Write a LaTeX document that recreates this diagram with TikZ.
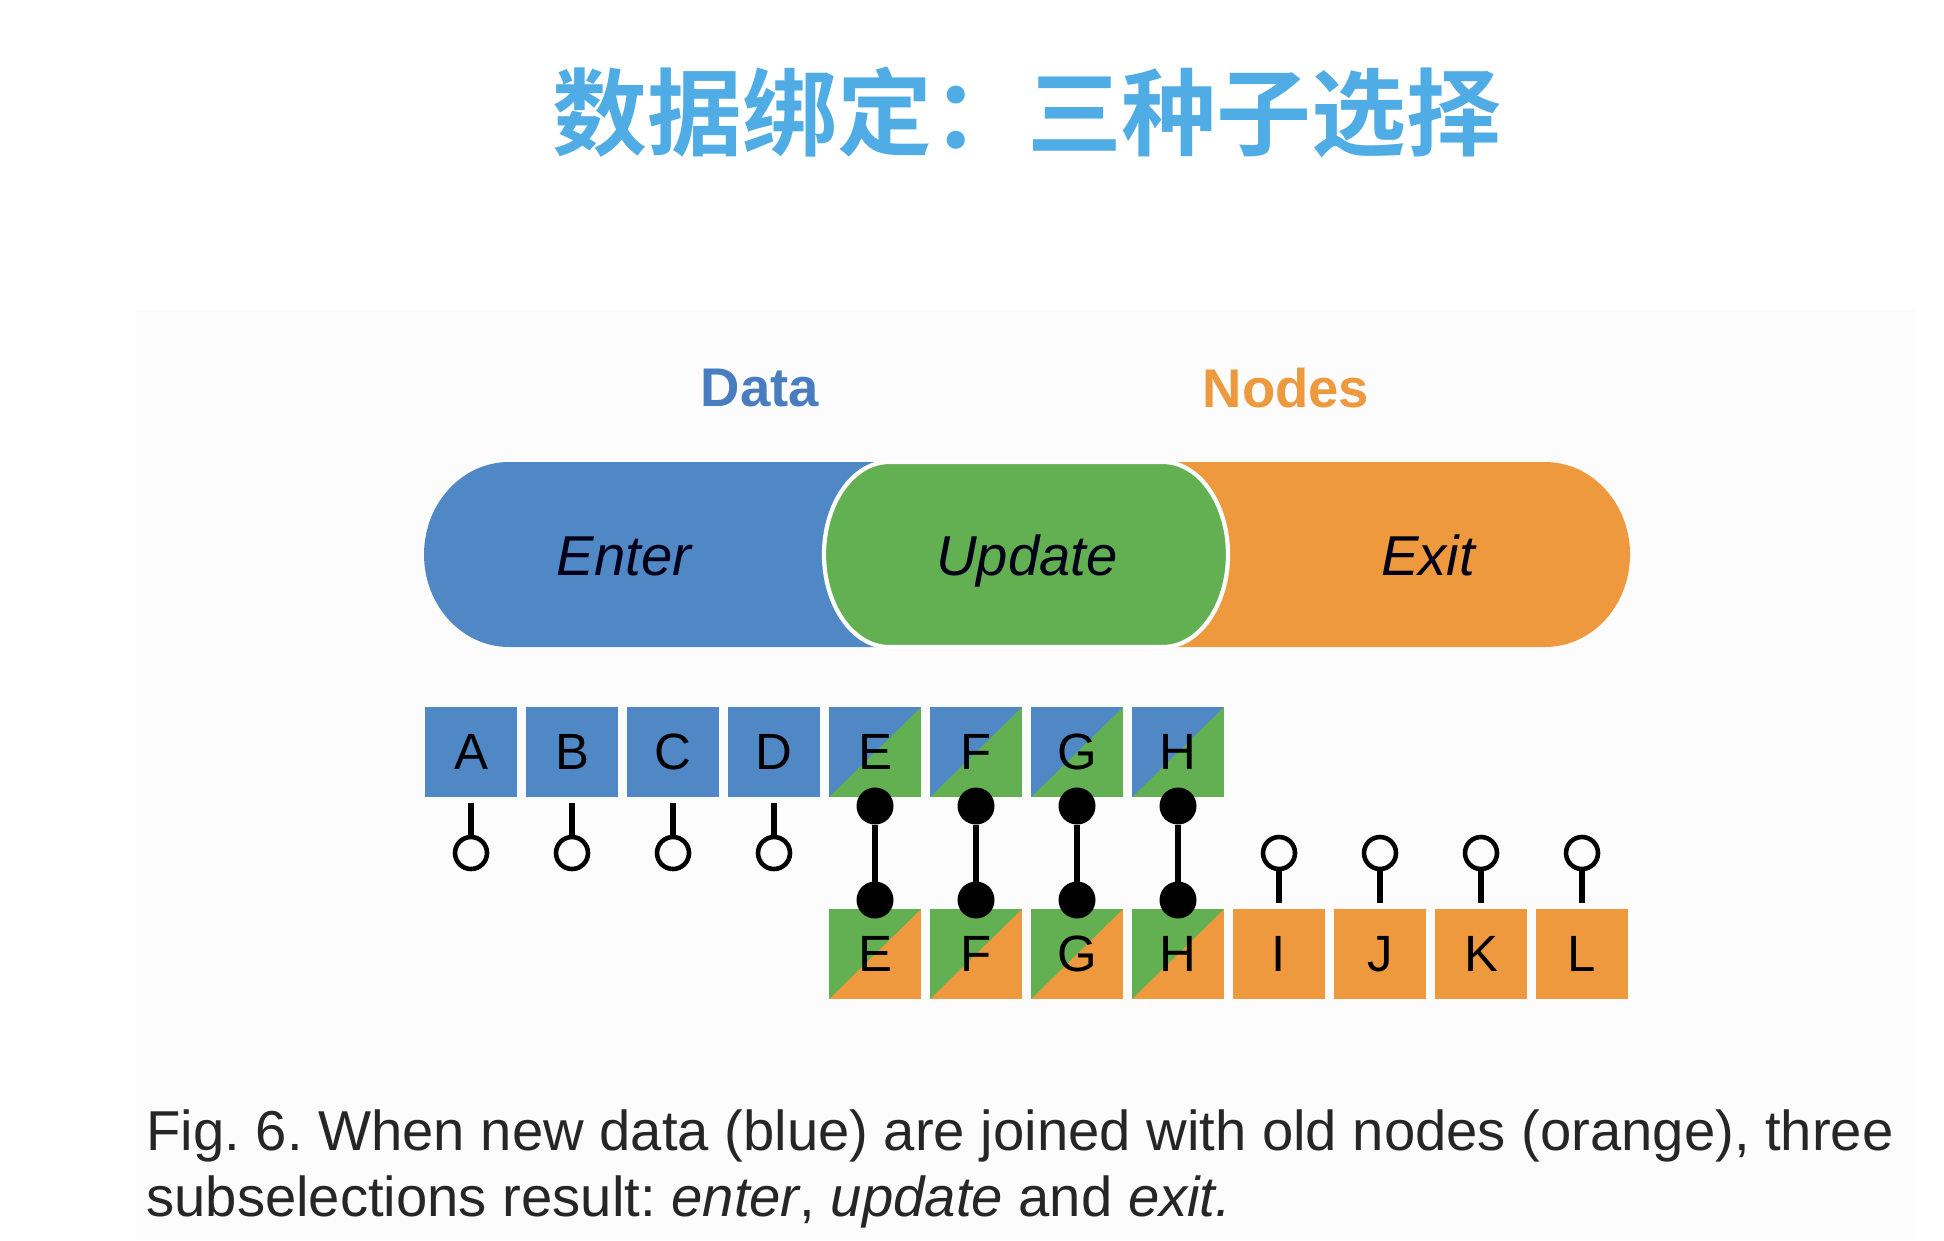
\documentclass[tikz,border=0pt]{standalone}
\usepackage{fontspec}
\setmainfont{Liberation Sans}
\newfontfamily\cjk{Noto Sans CJK SC Bold}
\usepackage{xcolor}
\definecolor{joinblue}{RGB}{80,136,198}
\definecolor{joingreen}{RGB}{98,176,82}
\definecolor{joinorange}{RGB}{238,153,62}
\definecolor{labelblue}{RGB}{72,125,192}
\definecolor{titleblue}{RGB}{80,172,228}
\definecolor{figgray}{RGB}{252,252,252}
\frenchspacing

\tikzset{
  datum/.style={minimum width=0.92cm, minimum height=0.90cm, inner sep=0pt, outer sep=0pt,
    font=\fontsize{14.5}{14.5}\selectfont},
  halfhalf/.style 2 args={fill=#2, path picture={
    \fill[#1] (path picture bounding box.north west) -- (path picture bounding box.north east)
      -- (path picture bounding box.south west) -- cycle;}},
  ring/.style={circle, draw, line width=1.3pt, minimum size=0.32cm, inner sep=0pt, outer sep=0pt},
  blob/.style={circle, fill, minimum size=0.37cm, inner sep=0pt, outer sep=0pt},
  stick/.style={line width=1.6pt},
  bar/.style={line width=1.7pt},
  pilltext/.style={anchor=base, font=\itshape\fontsize{16}{16}\selectfont, text=black!90!blue}
}

\begin{document}
\begin{tikzpicture}
  \useasboundingbox (0,0) rectangle (19.44,12.40);
  \fill[white] (0,0) rectangle (19.44,12.40);
  \fill[figgray] (1.36,0) rectangle (19.16,9.30);

  \node[font=\cjk\fontsize{27}{27}\selectfont, text=titleblue] (title) at (10.27,11.28) {数据绑定：三种子选择};

  % the three subselections
  \fill[joinblue] (5.09,7.78) -- (9.6,7.78) -- (9.6,5.93) -- (5.09,5.93)
    arc[start angle=270, end angle=90, x radius=0.85, y radius=0.925] -- cycle;
  \fill[joinorange] (11.0,7.78) -- (15.45,7.78)
    arc[start angle=90, end angle=-90, x radius=0.85, y radius=0.925] -- (11.0,5.93) -- cycle;
  \filldraw[fill=joingreen, draw=white, line width=1.2pt] (8.89,7.78) -- (11.63,7.78)
    arc[start angle=90, end angle=-90, x radius=0.65, y radius=0.925] -- (8.89,5.93)
    arc[start angle=270, end angle=90, x radius=0.65, y radius=0.925] -- cycle;
  \node[pilltext] (enter) at (6.24,6.65) {Enter};
  \node[pilltext] (update) at (10.27,6.65) {Update};
  \node[pilltext] (exit) at (14.28,6.65) {Exit};

  \node[font=\bfseries\fontsize{15.5}{16}\selectfont, text=labelblue] (data) at (7.60,8.52) {Data};
  \node[font=\bfseries\fontsize{15.5}{16}\selectfont, text=joinorange] (nodes) at (12.86,8.52) {Nodes};

  % data row
  \foreach \l [count=\i from 0] in {A,B,C,D} { \node[datum, fill=joinblue] (d\l) at ({4.71+1.01*\i},4.88) {\l}; }
  \foreach \l [count=\i from 4] in {E,F,G,H} { \node[datum, halfhalf={joinblue}{joingreen}] (d\l) at ({4.71+1.01*\i},4.88) {\l}; }
  % node row
  \foreach \l [count=\i from 4] in {E,F,G,H} { \node[datum, halfhalf={joingreen}{joinorange}] (n\l) at ({4.71+1.01*\i},2.86) {\l}; }
  \foreach \l [count=\i from 8] in {I,J,K,L} { \node[datum, fill=joinorange] (n\l) at ({4.71+1.01*\i},2.86) {\l}; }

  % enter
  \foreach \l in {A,B,C,D} {
    \node[ring] (o\l) at ([yshift=-0.56cm]d\l.south) {};
    \draw[stick] ([yshift=-0.06cm]d\l.south) -- (o\l.north);
  }
  % update
  \foreach \l in {E,F,G,H} {
    \node[blob] (t\l) at ([yshift=-0.09cm]d\l.south) {};
    \node[blob] (b\l) at ([yshift=0.09cm]n\l.north) {};
    \draw[bar] (t\l) -- (b\l);
  }
  % exit
  \foreach \l in {I,J,K,L} {
    \node[ring] (x\l) at ([yshift=0.56cm]n\l.north) {};
    \draw[stick] ([yshift=0.06cm]n\l.north) -- (x\l.south);
  }

  \node[anchor=base west, font=\fontsize{16}{19}\selectfont, text=black!85] (capA) at (1.34,0.90)
    {Fig. 6. When new data (blue) are joined with old nodes (orange), three};
  \node[anchor=base west, font=\fontsize{16}{19}\selectfont, text=black!85] (capB) at (1.34,0.24)
    {subselections result: \textit{enter}, \textit{update} and \textit{exit.}};
\end{tikzpicture}
\end{document}
